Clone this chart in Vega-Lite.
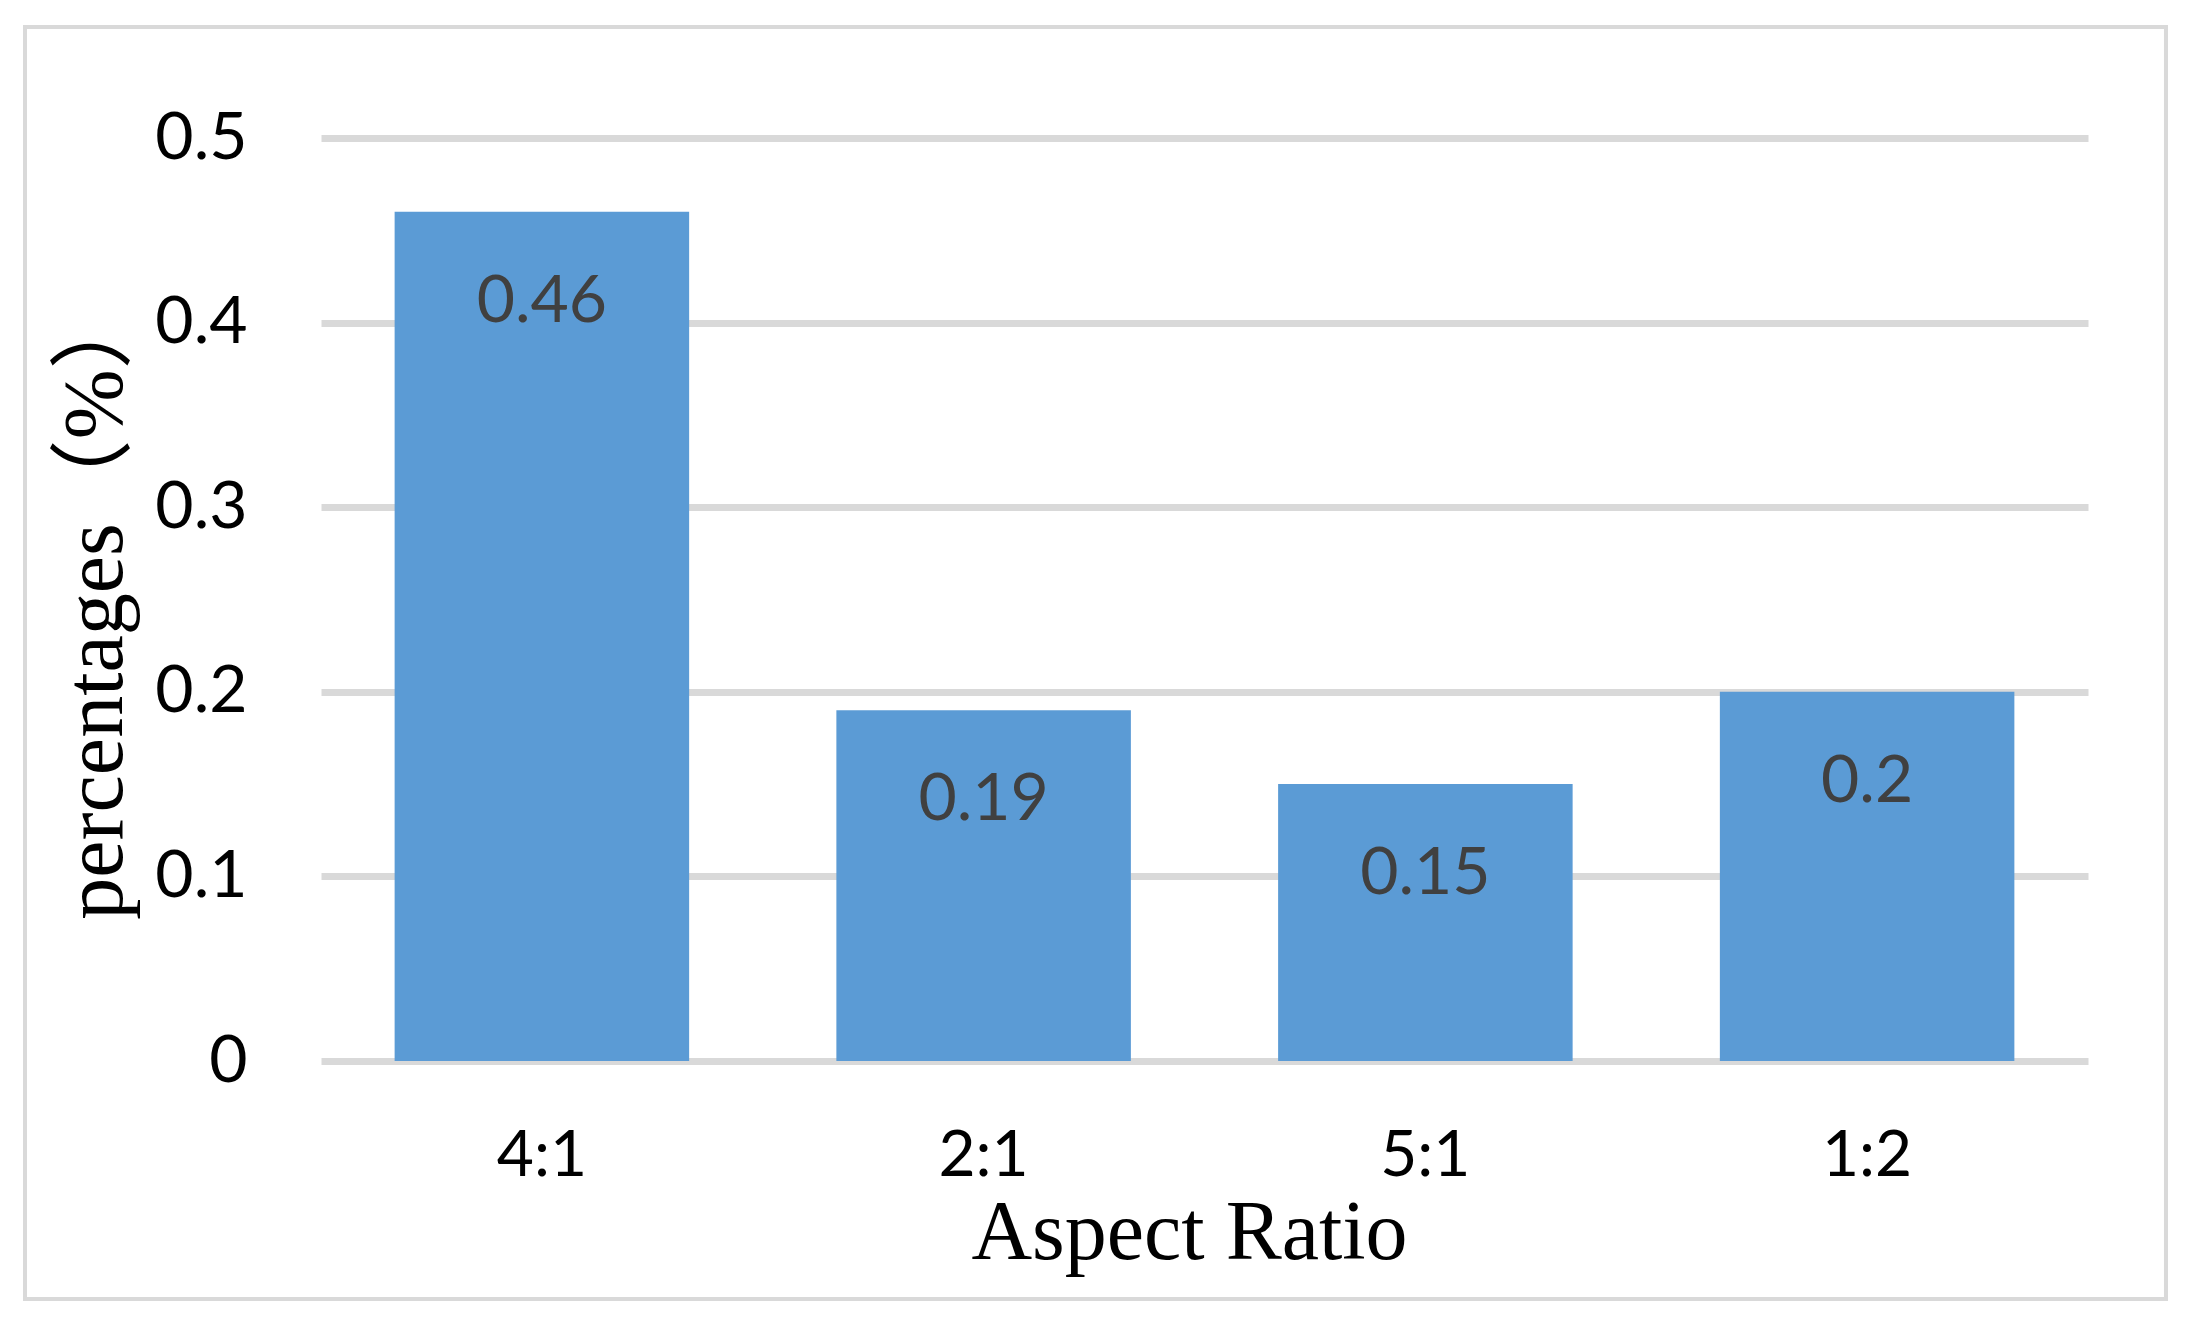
{
  "$schema": "https://vega.github.io/schema/vega-lite/v6.json",
  "autosize": {"type": "none"},
  "padding": {"left": 321, "top": 138, "right": 109, "bottom": 267},
  "width": 1767,
  "height": 923,
  "background": "white",
  "config": {
    "view": {"stroke": null},
    "axis": {"grid": false}
  },
  "data": {
    "values": [
      {"ratio": "4:1", "value": 0.46},
      {"ratio": "2:1", "value": 0.19},
      {"ratio": "5:1", "value": 0.15},
      {"ratio": "1:2", "value": 0.2}
    ]
  },
  "resolve": {"scale": {"x": "independent", "y": "independent"}, "axis": {"x": "independent", "y": "independent"}},
  "layer": [
    {
      "data": {"values": [{"frame": "outer"}]},
      "mark": {"type": "rect", "fill": null, "stroke": "#d9d9d9", "strokeWidth": 4},
      "encoding": {
        "x": {"datum": 0, "type": "quantitative", "scale": {"domain": [0.13826, 0.96358], "nice": false, "zero": false}, "axis": null},
        "x2": {"datum": 1},
        "y": {"datum": 0, "type": "quantitative", "scale": {"domain": [0.1871, 0.9127], "nice": false, "zero": false}, "axis": null},
        "y2": {"datum": 1}
      }
    },
    {
      "encoding": {
        "x": {
          "field": "ratio",
          "type": "nominal",
          "sort": null,
          "scale": {"paddingInner": 0.3333, "paddingOuter": 0.16667},
          "axis": {
            "title": "Aspect Ratio",
            "titleFont": "Liberation Serif",
            "titleFontSize": 84,
            "titleFontWeight": "normal",
            "titleColor": "black",
            "titleX": 868,
            "titleY": 197,
            "titleBaseline": "alphabetic",
            "titleAlign": "center",
            "labelAngle": 0,
            "labelFont": "Lato",
            "labelFontSize": 64,
            "labelColor": "black",
            "labelBaseline": "alphabetic",
            "labelPadding": 114,
            "ticks": false,
            "domain": false,
            "grid": false
          }
        },
        "y": {
          "field": "value",
          "type": "quantitative",
          "scale": {"domain": [0, 0.5], "nice": false},
          "axis": {
            "title": "percentages（%）",
            "titleFont": "Liberation Serif, Noto Sans CJK SC",
            "titleFontSize": 84,
            "titleFontWeight": "normal",
            "titleColor": "black",
            "titleAngle": -90,
            "titleX": -200,
            "titleY": 464,
            "titleBaseline": "alphabetic",
            "titleAlign": "center",
            "values": [0, 0.1, 0.2, 0.3, 0.4, 0.5],
            "format": "~g",
            "labelFont": "Lato",
            "labelFontSize": 66,
            "labelColor": "black",
            "labelPadding": 74,
            "labelBaseline": "middle",
            "ticks": false,
            "domain": false,
            "grid": true,
            "gridColor": "#d9d9d9",
            "gridWidth": 7
          }
        }
      },
      "layer": [
        {"mark": {"type": "bar", "color": "#5b9bd5"}},
        {
          "mark": {"type": "text", "font": "Lato", "fontSize": 66, "color": "#404040", "baseline": "alphabetic", "align": "center", "dy": 110},
          "encoding": {"text": {"field": "value", "type": "quantitative", "format": "~g"}}
        }
      ]
    }
  ]
}
